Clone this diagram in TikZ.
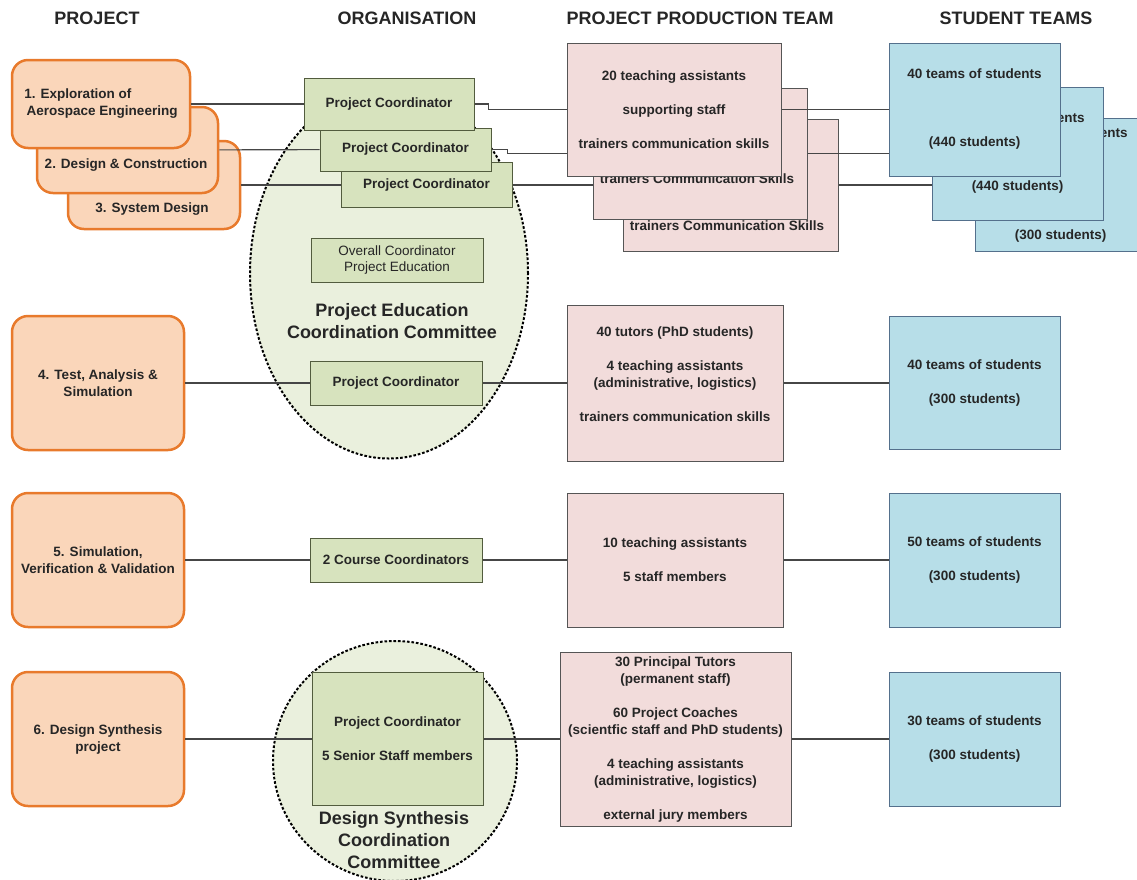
\documentclass[tikz,border=0pt]{standalone}
\usepackage{xcolor}
\usepackage{fontspec}
\setmainfont{Liberation Sans}
\usepackage{tikz}
\usetikzlibrary{shapes}
\usetikzlibrary{positioning}
\usetikzlibrary{calc}

\definecolor{projfill}{RGB}{250,214,186}
\definecolor{projdraw}{RGB}{232,122,44}
\definecolor{zonefill}{RGB}{234,240,221}
\definecolor{coordfill}{RGB}{215,227,190}
\definecolor{coorddraw}{RGB}{82,92,62}
\definecolor{teamfill}{RGB}{242,220,219}
\definecolor{teamdraw}{RGB}{85,85,85}
\definecolor{studfill}{RGB}{183,222,232}
\definecolor{studdraw}{RGB}{84,112,140}
\definecolor{inktxt}{RGB}{38,38,38}
\definecolor{linegray}{RGB}{70,70,70}

\begin{document}
\begin{tikzpicture}[x=1pt, y=-1pt,
    every node/.style={text=inktxt, align=center, inner sep=0pt,
      font=\fontsize{13.5}{17}\selectfont\bfseries},
    head/.style={font=\fontsize{18}{20}\selectfont\bfseries},
    bigtxt/.style={font=\fontsize{18}{22}\selectfont\bfseries},
    proj/.style 2 args={draw=projdraw, fill=projfill, line width=2.5pt,
      rounded corners=16pt, minimum width=#1, minimum height=#2},
    coord/.style 2 args={draw=coorddraw, fill=coordfill, line width=1pt,
      minimum width=#1, minimum height=#2},
    team/.style 2 args={draw=teamdraw, fill=teamfill, line width=1pt,
      minimum width=#1, minimum height=#2},
    stud/.style 2 args={draw=studdraw, fill=studfill, line width=1pt,
      minimum width=#1, minimum height=#2},
    zone/.style={ellipse, draw=black, fill=zonefill, line width=2pt,
      dash pattern=on 2.6pt off 1.9pt},
    conn/.style={draw=linegray, line width=1.1pt}]

\path[use as bounding box] (0,0) rectangle (1137,879);
\clip (0,0) rectangle (1137,879);

\foreach \x/\t [count=\n] in {97/PROJECT, 407/ORGANISATION,
    700/PROJECT PRODUCTION TEAM, 1016/STUDENT TEAMS} {
    \node[head] (h\n) at (\x,18) {\t};
}

% coordination committees
\node[zone, minimum width=278, minimum height=370] (pecc) at (389,273.5) {};
\node[zone, minimum width=244, minimum height=240] (dscc) at (395,761) {};

% projects 1-3, stacked from the back
\node[proj={172}{88}] (p3) at (154,185) {};
\node (p3txt) at (152,209) {3. System Design};
\node[coord={171}{45}] (c3) at (426.5,185) {Project Coordinator};
\node[team={215}{132}] (t3) at (730.5,185) {};
\node (t3txt) at (727,226) {trainers Communication Skills};
\node[stud={171}{133}] (s3) at (1060.5,185)
    {40 teams of students\\[85pt](300 students)};
\draw[conn] (p3) -- (c3);
\draw[conn] (c3) -- (t3);
\draw[conn] (t3) -- (s3);

\node[proj={181}{86}] (p2) at (127.5,150) {};
\node (p2txt) at (126,165) {2. Design \& Construction};
\node[coord={171}{43}] (c2) at (405.5,149.5) {Project Coordinator};
\node[team={214}{131}] (t2) at (700,153.5) {};
\node (t2txt) at (697,179) {trainers Communication Skills};
\node[stud={171}{133}] (s2) at (1017.5,153.5)
    {40 teams of students\\[51pt](440 students)};
\draw[conn] (p2) -- (c2);
\draw[conn] (c2.east) -- ++(16,0) |- (t2.west);
\draw[conn] (t2) -- (s2);

\node[proj={178}{88}, align=left] (p1) at (101,104)
    {1. Exploration of\\ \,Aerospace Engineering};
\node[coord={170}{52}] (c1) at (389,104) {Project Coordinator};
\node[team={214}{133}] (t1) at (674,109.5)
    {20 teaching assistants\\[17pt]supporting staff\\[17pt]trainers communication skills};
\node[stud={171}{133}] (s1) at (974.5,109.5)
    {40 teams of students\\[51pt](440 students)};
\draw[conn] (p1) -- (c1);
\draw[conn] (c1.east) -- ++(14,0) |- (t1.west);
\draw[conn] (t1) -- (s1);

\node[coord={172}{44}, font=\fontsize{13.5}{16}\selectfont] (oc) at (397,260)
    {Overall Coordinator\\Project Education};
\node[bigtxt] (pecctxt) at (392,321) {Project Education\\Coordination Committee};

% projects 4-6
\node[proj={172}{134}] (p4) at (98,383) {4. Test, Analysis \&\\Simulation};
\node[coord={172}{44}] (c4) at (396,383) {Project Coordinator};
\node[team={216}{156}] (t4) at (675,383)
    {40 tutors (PhD students)\\[17pt]4 teaching assistants\\(administrative, logistics)\\[17pt]trainers communication skills\\[0pt]\mbox{}};
\node[stud={171}{133}] (s4) at (974.5,383) {40 teams of students\\[17pt](300 students)};

\node[proj={172}{134}] (p5) at (98,560) {5. Simulation,\\Verification \& Validation};
\node[coord={172}{44}] (c5) at (396,560) {2 Course Coordinators};
\node[team={216}{134}] (t5) at (675,560) {10 teaching assistants\\[17pt]5 staff members};
\node[stud={171}{134}] (s5) at (974.5,560) {50 teams of students\\[17pt](300 students)};

\node[proj={172}{134}] (p6) at (98,739) {6. Design Synthesis\\project};
\node[coord={171}{133}] (c6) at (397.5,739) {Project Coordinator\\[17pt]5 Senior Staff members};
\node[team={231}{174}] (t6) at (675.5,739)
    {30 Principal Tutors\\(permanent staff)\\[17pt]60 Project Coaches\\(scientfic staff and PhD students)\\[17pt]4 teaching assistants\\(administrative, logistics)\\[17pt]external jury members};
\node[stud={171}{134}] (s6) at (974.5,739) {30 teams of students\\[17pt](300 students)};
\node[bigtxt] (dscctxt) at (394,840) {Design Synthesis\\Coordination\\Committee};

\foreach \r in {4,5,6} {
    \draw[conn] (p\r) -- (c\r);
    \draw[conn] (c\r) -- (t\r);
    \draw[conn] (t\r) -- (s\r);
}

\end{tikzpicture}
\end{document}
